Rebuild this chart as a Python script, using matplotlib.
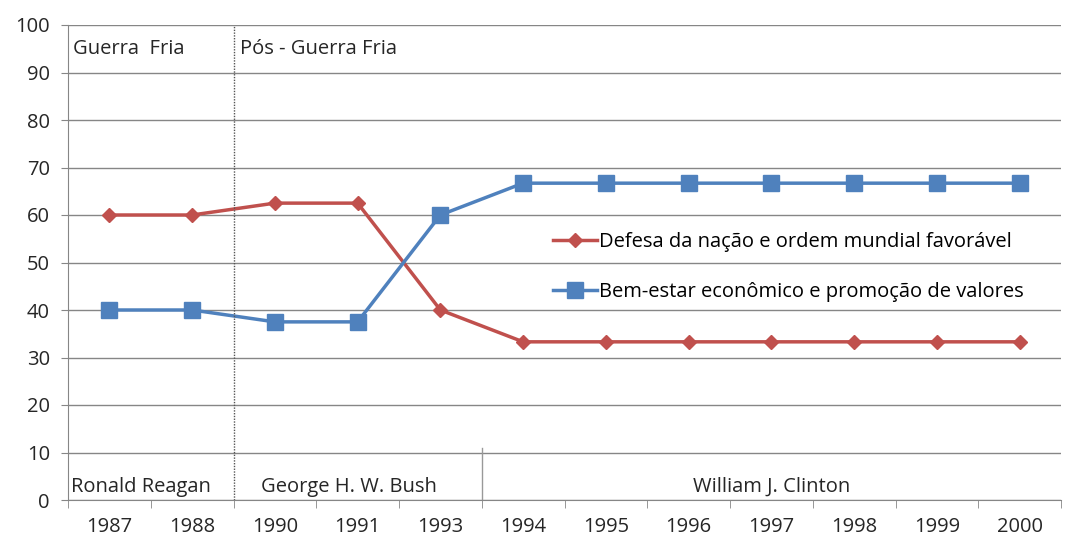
import matplotlib.pyplot as plt
import numpy as np

plt.rcParams['font.family'] = ['Open Sans', 'DejaVu Sans']

anos = ["1987", "1988", "1990", "1991", "1993", "1994", "1995", "1996", "1997", "1998", "1999", "2000"]
defesa = [60, 60, 62.5, 62.5, 40, 33.3, 33.3, 33.3, 33.3, 33.3, 33.3, 33.3]
bem_estar = [40, 40, 37.5, 37.5, 60, 66.7, 66.7, 66.7, 66.7, 66.7, 66.7, 66.7]

vermelho = "#C0504D"
azul = "#4F81BD"
cinza = "#868686"
texto = "#262626"
fs = 14.5

fig = plt.figure(figsize=(10.71, 5.46), dpi=100)
ax = fig.add_axes([68 / 1071, 46 / 546, (1061 - 68) / 1071, (500 - 25) / 546])

x = np.arange(len(anos))
ax.plot(x, defesa, color=vermelho, lw=2.5, marker="D", ms=7, label="Defesa da nação e ordem mundial favorável")
ax.plot(x, bem_estar, color=azul, lw=2.5, marker="s", ms=11, label="Bem-estar econômico e promoção de valores")

ax.set_xlim(-0.5, len(anos) - 0.5)
ax.set_ylim(0, 100)
ax.set_yticks(range(0, 101, 10))
ax.set_xticks(x)
ax.set_xticklabels(anos)
ax.set_xticks(np.arange(-0.5, len(anos), 1), minor=True)
ax.tick_params(axis="x", which="major", length=0, pad=12, labelsize=fs, labelcolor=texto)
ax.tick_params(axis="x", which="minor", length=6, color=cinza, direction="out")
ax.tick_params(axis="y", length=5, color=cinza, labelsize=fs, labelcolor=texto, pad=8)

ax.grid(axis="y", color=cinza, lw=1)
ax.set_axisbelow(True)
for s in ["top", "right"]:
    ax.spines[s].set_visible(False)
for s in ["left", "bottom"]:
    ax.spines[s].set_color(cinza)

# separadores de periodo
ax.axvline(1.5, color="#555555", lw=1, ls=(0, (1, 1)))
ax.plot([4.5, 4.5], [0, 11], color="#999999", lw=1)

ax.text(-0.44, 95, "Guerra  Fria", fontsize=fs, va="center", color=texto)
ax.text(1.58, 95, "Pós - Guerra Fria", fontsize=fs, va="center", color=texto)
ax.text(0.38, 2.8, "Ronald Reagan", fontsize=fs, ha="center", va="center", color=texto)
ax.text(2.9, 2.8, "George H. W. Bush", fontsize=fs, ha="center", va="center", color=texto)
ax.text(8.0, 2.8, "William J. Clinton", fontsize=fs, ha="center", va="center", color=texto)

ax.legend(loc="center left", bbox_to_anchor=(0.47, 0.49), frameon=False, fontsize=fs,
          handlelength=2.2, handletextpad=0.1, labelspacing=1.5)

fig.savefig("out.png", dpi=100)
